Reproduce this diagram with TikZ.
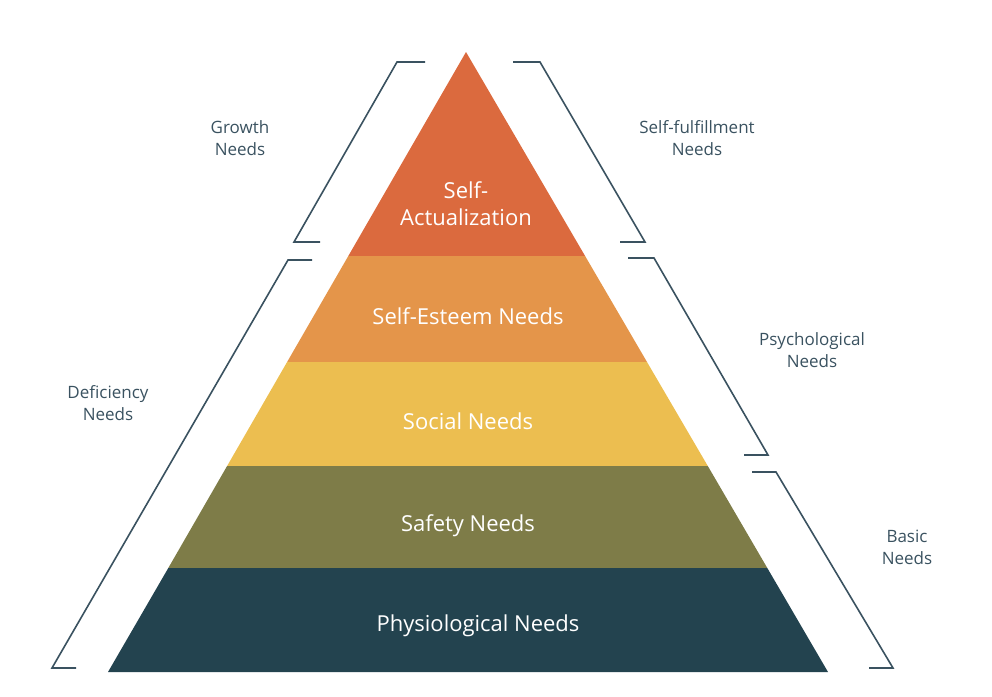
\documentclass[tikz,border=0pt]{standalone}
\usepackage{fontspec}
\setmainfont{Open Sans}
\usetikzlibrary{positioning}
\definecolor{actual}{HTML}{DB6A3E}
\definecolor{esteem}{HTML}{E4954A}
\definecolor{social}{HTML}{ECBE50}
\definecolor{safety}{HTML}{7E7C48}
\definecolor{physio}{HTML}{23434F}
\definecolor{labeltext}{HTML}{3A5260}
\begin{document}
\begin{tikzpicture}
	[x=1pt, y=-1pt,
	 band/.style={font=\fontsize{22}{27}\selectfont, text=white, align=center},
	 side/.style={font=\fontsize{17}{22}\selectfont, text=labeltext, align=center},
	 brace/.style={draw=labeltext, line width=1.6pt}]
   \useasboundingbox (0,0) rectangle (992,696);
   % pyramid bands
   \fill[actual] (466,52) -- (585.1,256) -- (348.3,256) -- cycle;
   \fill[esteem] (348.3,256) -- (585.1,256) -- (647,362) -- (287.1,362) -- cycle;
   \fill[social] (287.1,362) -- (647,362) -- (707.8,466) -- (227.1,466) -- cycle;
   \fill[safety] (227.1,466) -- (707.8,466) -- (767.3,568) -- (168.3,568) -- cycle;
   \fill[physio] (168.3,568) -- (767.3,568) -- (828,672) -- (108,672) -- cycle;
   \node[band] (self)   at (466,204) {Self-\\Actualization};
   \node[band] (esteem) at (468,316) {Self-Esteem Needs};
   \node[band] (social) at (468,421) {Social Needs};
   \node[band] (safety) at (468,526) {Safety Needs};
   \node[band] (physio) at (478,626) {Physiological Needs};
   % brackets
   \draw[brace] (425,62) -- (397,62) -- (294,242) -- (320,242);
   \draw[brace] (513,62) -- (540,62) -- (645,242) -- (620,242);
   \draw[brace] (312,260) -- (288,260) -- (52,668) -- (76,668);
   \draw[brace] (628,258) -- (654,258) -- (768,455) -- (744,455);
   \draw[brace] (752,472) -- (776,472) -- (893,668) -- (869,668);
   \node[side] (growth)     at (240,138) {Growth\\Needs};
   \node[side] (fulfil)     at (697,138) {Self-fulfillment\\Needs};
   \node[side] (deficiency) at (108,403) {Deficiency\\Needs};
   \node[side] (psych)      at (812,350) {Psychological\\Needs};
   \node[side] (basic)      at (907,547) {Basic\\Needs};
\end{tikzpicture}
\end{document}
